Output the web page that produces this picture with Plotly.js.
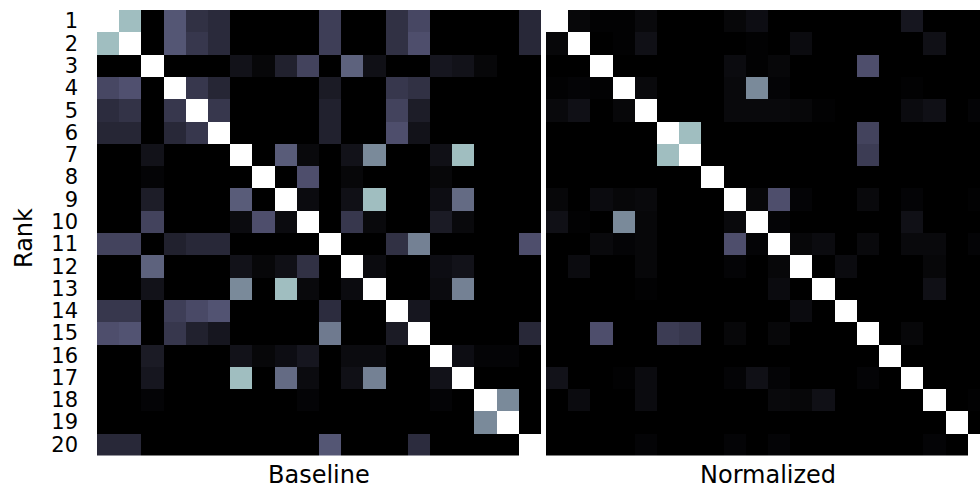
<!DOCTYPE html>
<html>
<head>
<meta charset="utf-8">
<script src="https://cdn.plot.ly/plotly-3.0.1.min.js"></script>
<style>
  html, body { margin: 0; padding: 0; background: #ffffff; overflow: hidden; }
  #chart { width: 980px; height: 491px; }
</style>
</head>
<body>
<div id="chart"></div>
<script>
// Rank labels (rows / columns)
const ranks = ["1","2","3","4","5","6","7","8","9","10","11","12","13","14","15","16","17","18","19","20"];
const rankIdx = [1,2,3,4,5,6,7,8,9,10,11,12,13,14,15,16,17,18,19,20];

// Panel titles
const panelTitles = ["Baseline", "Normalized"];
const yTitle = "Rank";

// Baseline similarity matrix (row = rank, column = rank)
const baselineZ = [
  [1.00,0.72,0.00,0.38,0.22,0.19,0.00,0.00,0.00,0.00,0.28,0.00,0.00,0.22,0.32,0.00,0.00,0.00,0.00,0.18],
  [0.72,1.00,0.00,0.38,0.25,0.19,0.00,0.00,0.00,0.00,0.28,0.00,0.00,0.22,0.35,0.00,0.00,0.00,0.00,0.18],
  [0.00,0.00,1.00,0.00,0.00,0.00,0.08,0.03,0.15,0.30,0.00,0.42,0.07,0.00,0.00,0.10,0.08,0.03,0.00,0.00],
  [0.32,0.36,0.00,1.00,0.25,0.17,0.00,0.00,0.00,0.00,0.12,0.00,0.00,0.25,0.22,0.00,0.00,0.00,0.00,0.00],
  [0.20,0.23,0.00,0.25,1.00,0.25,0.00,0.00,0.00,0.00,0.15,0.00,0.00,0.30,0.13,0.00,0.00,0.00,0.00,0.00],
  [0.17,0.17,0.00,0.18,0.25,1.00,0.00,0.00,0.00,0.00,0.15,0.00,0.00,0.35,0.08,0.00,0.00,0.00,0.00,0.00],
  [0.00,0.00,0.08,0.00,0.00,0.00,1.00,0.00,0.40,0.04,0.00,0.08,0.55,0.00,0.00,0.07,0.72,0.00,0.00,0.00],
  [0.00,0.00,0.02,0.00,0.00,0.00,0.00,1.00,0.00,0.35,0.00,0.03,0.00,0.00,0.00,0.03,0.00,0.00,0.00,0.00],
  [0.00,0.00,0.13,0.00,0.00,0.00,0.40,0.00,1.00,0.05,0.00,0.07,0.72,0.00,0.00,0.06,0.45,0.00,0.00,0.00],
  [0.00,0.00,0.30,0.00,0.00,0.00,0.05,0.35,0.05,1.00,0.00,0.25,0.04,0.00,0.00,0.12,0.04,0.00,0.00,0.00],
  [0.30,0.30,0.00,0.15,0.18,0.18,0.00,0.00,0.00,0.00,1.00,0.00,0.00,0.22,0.52,0.00,0.00,0.00,0.00,0.35],
  [0.00,0.00,0.42,0.00,0.00,0.00,0.08,0.03,0.07,0.22,0.00,1.00,0.05,0.00,0.00,0.06,0.08,0.00,0.00,0.00],
  [0.00,0.00,0.08,0.00,0.00,0.00,0.55,0.00,0.72,0.04,0.00,0.05,1.00,0.00,0.00,0.05,0.52,0.00,0.00,0.00],
  [0.25,0.25,0.00,0.28,0.33,0.37,0.00,0.00,0.00,0.00,0.20,0.00,0.00,1.00,0.10,0.00,0.00,0.00,0.00,0.00],
  [0.35,0.37,0.00,0.25,0.15,0.10,0.00,0.00,0.00,0.00,0.50,0.00,0.00,0.12,1.00,0.00,0.00,0.00,0.00,0.18],
  [0.00,0.00,0.12,0.00,0.00,0.00,0.08,0.03,0.06,0.10,0.00,0.05,0.05,0.00,0.00,1.00,0.06,0.02,0.02,0.00],
  [0.00,0.00,0.10,0.00,0.00,0.00,0.72,0.00,0.45,0.05,0.00,0.07,0.52,0.00,0.00,0.08,1.00,0.00,0.00,0.00],
  [0.00,0.00,0.02,0.00,0.00,0.00,0.00,0.00,0.00,0.02,0.00,0.00,0.00,0.00,0.00,0.02,0.00,1.00,0.55,0.00],
  [0.00,0.00,0.00,0.00,0.00,0.00,0.00,0.00,0.00,0.00,0.00,0.00,0.00,0.00,0.00,0.00,0.00,0.55,1.00,0.00],
  [0.18,0.18,0.00,0.00,0.00,0.00,0.00,0.00,0.00,0.00,0.38,0.00,0.00,0.00,0.20,0.00,0.00,0.00,0.00,1.00]
];

// Normalized similarity matrix
const normalizedZ = [
  [1.00,0.03,0.01,0.01,0.04,0.00,0.00,0.00,0.03,0.06,0.00,0.00,0.00,0.00,0.00,0.00,0.10,0.00,0.00,0.00],
  [0.03,1.00,0.00,0.01,0.07,0.00,0.00,0.00,0.00,0.01,0.00,0.05,0.00,0.00,0.00,0.00,0.00,0.07,0.00,0.00],
  [0.00,0.00,1.00,0.00,0.00,0.00,0.00,0.00,0.05,0.01,0.03,0.00,0.00,0.00,0.35,0.00,0.00,0.00,0.00,0.00],
  [0.01,0.02,0.01,1.00,0.04,0.00,0.00,0.00,0.04,0.55,0.02,0.00,0.00,0.00,0.00,0.00,0.01,0.00,0.00,0.00],
  [0.04,0.07,0.00,0.03,1.00,0.00,0.00,0.00,0.04,0.04,0.04,0.03,0.01,0.00,0.00,0.00,0.05,0.07,0.00,0.02],
  [0.00,0.00,0.00,0.00,0.00,1.00,0.72,0.00,0.00,0.00,0.00,0.00,0.00,0.00,0.30,0.00,0.00,0.00,0.00,0.00],
  [0.00,0.00,0.00,0.00,0.00,0.72,1.00,0.00,0.00,0.00,0.00,0.00,0.00,0.00,0.27,0.00,0.00,0.00,0.00,0.00],
  [0.00,0.00,0.00,0.00,0.00,0.00,0.00,1.00,0.00,0.00,0.00,0.00,0.00,0.00,0.00,0.00,0.00,0.00,0.00,0.00],
  [0.03,0.00,0.05,0.03,0.04,0.00,0.00,0.00,1.00,0.03,0.35,0.02,0.00,0.00,0.04,0.00,0.02,0.00,0.00,0.01],
  [0.07,0.01,0.00,0.55,0.03,0.00,0.00,0.00,0.04,1.00,0.02,0.00,0.00,0.00,0.00,0.00,0.07,0.00,0.00,0.00],
  [0.00,0.00,0.04,0.02,0.03,0.00,0.00,0.00,0.35,0.02,1.00,0.03,0.05,0.00,0.04,0.00,0.04,0.04,0.00,0.02],
  [0.00,0.05,0.00,0.00,0.03,0.00,0.00,0.00,0.02,0.00,0.03,1.00,0.00,0.05,0.00,0.00,0.00,0.03,0.00,0.00],
  [0.00,0.00,0.00,0.00,0.01,0.00,0.00,0.00,0.00,0.00,0.05,0.00,1.00,0.00,0.00,0.00,0.00,0.07,0.00,0.00],
  [0.00,0.00,0.00,0.00,0.00,0.00,0.00,0.00,0.00,0.00,0.00,0.05,0.00,1.00,0.00,0.00,0.00,0.00,0.00,0.00],
  [0.00,0.00,0.35,0.00,0.00,0.27,0.25,0.00,0.03,0.00,0.03,0.00,0.00,0.00,1.00,0.00,0.03,0.00,0.00,0.00],
  [0.00,0.00,0.00,0.00,0.00,0.00,0.00,0.00,0.00,0.00,0.00,0.00,0.00,0.00,0.00,1.00,0.00,0.00,0.00,0.00],
  [0.08,0.00,0.00,0.01,0.05,0.00,0.00,0.00,0.02,0.07,0.02,0.00,0.00,0.00,0.02,0.00,1.00,0.00,0.00,0.00],
  [0.00,0.05,0.00,0.00,0.05,0.00,0.00,0.00,0.00,0.00,0.04,0.03,0.07,0.00,0.00,0.00,0.00,1.00,0.00,0.01],
  [0.00,0.00,0.00,0.00,0.00,0.00,0.00,0.00,0.00,0.00,0.00,0.00,0.00,0.00,0.00,0.00,0.00,0.00,1.00,0.00],
  [0.00,0.00,0.00,0.00,0.02,0.00,0.00,0.00,0.02,0.00,0.02,0.00,0.00,0.00,0.00,0.00,0.00,0.02,0.00,1.00]
];

// matplotlib "bone" colormap
const bone = [
  [0.0, 'rgb(0,0,0)'],
  [0.365079, 'rgb(81,81,113)'],
  [0.746032, 'rgb(166,198,198)'],
  [1.0, 'rgb(255,255,255)']
];

const W = 980, H = 491;
const font = 'DejaVu Sans, sans-serif';

const common = {
  type: 'heatmap',
  x: rankIdx, y: rankIdx,
  colorscale: bone, zmin: 0, zmax: 1,
  showscale: false, hoverinfo: 'z'
};

const traces = [
  Object.assign({}, common, { z: baselineZ, xaxis: 'x', yaxis: 'y', name: panelTitles[0] }),
  Object.assign({}, common, { z: normalizedZ, xaxis: 'x2', yaxis: 'y', name: panelTitles[1] })
];

const hiddenX = {
  showticklabels: false, ticks: '', showgrid: false, zeroline: false, showline: false
};

const layout = {
  width: W, height: H,
  margin: { l: 0, r: 0, t: 0, b: 0, pad: 0 },
  paper_bgcolor: '#ffffff', plot_bgcolor: '#ffffff',
  font: { family: font, color: '#000000' },
  showlegend: false,
  xaxis: Object.assign({}, hiddenX, {
    domain: [97 / W, 541 / W], range: [0.5, 20.5], anchor: 'y'
  }),
  xaxis2: Object.assign({}, hiddenX, {
    domain: [546 / W, 1], range: [0.5, 20.5 - 10 / 22.2], anchor: 'y'
  }),
  yaxis: {
    domain: [1 - 455.5 / H, 1 - 10 / H],
    range: [20.5, 0.5],
    tickmode: 'array', tickvals: rankIdx, ticktext: ranks,
    ticks: '', ticklabelstandoff: 18,
    tickfont: { family: font, size: 21, color: '#000000' },
    showgrid: false, zeroline: false, showline: false, automargin: false
  },
  annotations: [
    { text: panelTitles[0], xref: 'paper', yref: 'paper', x: 319 / W, y: 1 - 475 / H,
      xanchor: 'center', yanchor: 'middle', showarrow: false,
      font: { family: font, size: 24, color: '#000000' } },
    { text: panelTitles[1], xref: 'paper', yref: 'paper', x: 768 / W, y: 1 - 475 / H,
      xanchor: 'center', yanchor: 'middle', showarrow: false,
      font: { family: font, size: 24, color: '#000000' } },
    { text: yTitle, xref: 'paper', yref: 'paper', x: 24 / W, y: 1 - 238 / H,
      xanchor: 'center', yanchor: 'middle', showarrow: false, textangle: -90,
      font: { family: font, size: 24, color: '#000000' } }
  ]
};

Plotly.newPlot('chart', traces, layout, { staticPlot: true, displayModeBar: false });
</script>
</body>
</html>
